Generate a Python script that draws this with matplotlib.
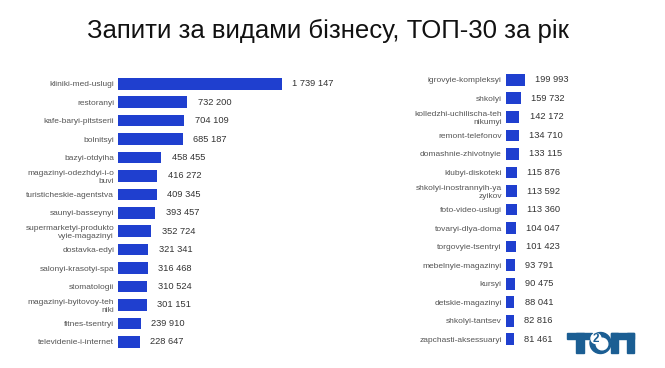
import matplotlib.pyplot as plt
from matplotlib.patches import Rectangle, Circle

plt.rcParams['font.family'] = ['Liberation Sans', 'DejaVu Sans']

# left column
left_names = [
    "kliniki-med-uslugi", "restoranyi", "kafe-baryi-pitstserii", "bolnitsyi",
    "bazyi-otdyiha", "magazinyi-odezhdyi-i-o\nbuvi", "turisticheskie-agentstva",
    "saunyi-basseynyi", "supermarketyi-produkto\nvyie-magazinyi", "dostavka-edyi",
    "salonyi-krasotyi-spa", "stomatologii", "magazinyi-byitovoy-teh\nniki",
    "fitnes-tsentryi", "televidenie-i-internet",
]
left_values = [1739147, 732200, 704109, 685187, 458455, 416272, 409345,
               393457, 352724, 321341, 316468, 310524, 301151, 239910, 228647]

# right column
right_names = [
    "igrovyie-kompleksyi", "shkolyi", "kolledzhi-uchilischa-teh\nnikumyi",
    "remont-telefonov", "domashnie-zhivotnyie", "klubyi-diskoteki",
    "shkolyi-inostrannyih-ya\nzyikov", "foto-video-uslugi", "tovaryi-dlya-doma",
    "torgovyie-tsentryi", "mebelnyie-magazinyi", "kursyi", "detskie-magazinyi",
    "shkolyi-tantsev", "zapchasti-aksessuaryi",
]
right_values = [199993, 159732, 142172, 134710, 133115, 115876, 113592,
                113360, 104047, 101423, 93791, 90475, 88041, 82816, 81461]

title = "Запити за видами бізнесу, ТОП-30 за рік"

W, H = 665, 368
BAR = '#1f3fcf'
PX_PER_UNIT = 9.395e-5  # same scale on both panels


def fmt(v):
    return f"{v:,}".replace(",", " ")


def panel(fig, names, values, left_px, top_px, step_px, xmax):
    n = len(values)
    width_px = xmax * PX_PER_UNIT
    height_px = n * step_px
    ax = fig.add_axes([left_px / W, (H - top_px - height_px) / H,
                       width_px / W, height_px / H])
    pos = list(range(n))
    ax.barh(pos, values, height=0.63, color=BAR)
    ax.set_xlim(0, xmax)
    ax.set_ylim(n - 0.5, -0.5)
    ax.set_yticks(pos)
    ax.set_yticklabels(names, fontsize=6, color='#555555', linespacing=1.2)
    ax.tick_params(axis='y', length=0, pad=3)
    ax.set_xticks([])
    for s in ax.spines.values():
        s.set_visible(False)
    for p, v in zip(pos, values):
        ax.annotate(fmt(v), (v, p), xytext=(7.5, 0), textcoords='offset points',
                    va='center', ha='left', fontsize=6.7, color='#333333')
    return ax


fig = plt.figure(figsize=(W / 100, H / 100), dpi=100)

panel(fig, left_names, left_values, 118.3, 74.6, 18.43, 2.0e6)
panel(fig, right_names, right_values, 506, 70.5, 18.54, 1.2e6)

fig.text(327.5 / W, 1 - 38.3 / H, title, ha='center', va='baseline',
         fontsize=18.5, color='#111111')

# logo, drawn in pixel coords on an overlay axes
LOGO = '#1b5e93'
lax = fig.add_axes([0, 0, 1, 1], zorder=5)
lax.set_xlim(0, W)
lax.set_ylim(H, 0)
lax.axis('off')
lax.patch.set_alpha(0)
# T
lax.add_patch(Rectangle((567, 333), 25, 6, color=LOGO))
lax.add_patch(Rectangle((576, 333), 7.5, 20, color=LOGO))
# ring with 2
lax.add_patch(Circle((600.5, 343), 10.5, color=LOGO))
lax.add_patch(Circle((602, 344), 5.8, color='white'))
lax.add_patch(Circle((596, 338.5), 5, color='white'))
lax.text(596, 339, "2", fontsize=8.5, fontweight='bold', color=LOGO,
         ha='center', va='center')
# П
lax.add_patch(Rectangle((611, 333), 23, 6, color=LOGO))
lax.add_patch(Rectangle((611, 333), 7, 20, color=LOGO))
lax.add_patch(Rectangle((627, 333), 7, 20, color=LOGO))

fig.savefig("out.png", dpi=100, facecolor='white')
